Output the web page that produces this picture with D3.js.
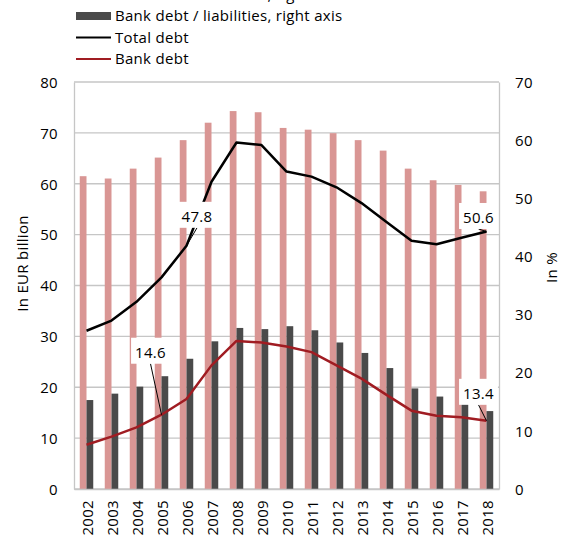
<!DOCTYPE html>
<html>
<head>
<meta charset="utf-8">
<script src="https://cdn.jsdelivr.net/npm/d3@7"></script>
<style>
  html, body { margin: 0; padding: 0; background: #fff; }
  svg { display: block; }
  text { font-family: "Open Sans", sans-serif; font-size: 15px; letter-spacing: 0.3px; fill: #000; }
</style>
</head>
<body>
<svg id="chart" width="565" height="536"></svg>
<script>
// ---- data ----
const years = ["2002","2003","2004","2005","2006","2007","2008","2009","2010","2011","2012","2013","2014","2015","2016","2017","2018"];
// right axis, in %
const totalDebtToLiabilities = [53.8, 53.4, 55.1, 57.0, 60.0, 63.0, 65.0, 64.8, 62.1, 61.8, 61.2, 60.0, 58.2, 55.1, 53.1, 52.3, 51.2];
const bankDebtToLiabilities  = [15.3, 16.4, 17.6, 19.4, 22.4, 25.4, 27.7, 27.5, 28.0, 27.3, 25.2, 23.4, 20.8, 17.3, 15.9, 14.9, 13.4];
// left axis, in EUR billion
const totalDebt = [31.1, 33.1, 36.8, 41.6, 47.8, 60.4, 68.1, 67.6, 62.4, 61.4, 59.3, 56.2, 52.5, 48.8, 48.1, 49.4, 50.6];
const bankDebt  = [8.7, 10.3, 12.1, 14.6, 17.7, 24.3, 29.1, 28.8, 28.0, 26.9, 24.3, 21.7, 18.5, 15.4, 14.4, 14.1, 13.4];
const leftTicks  = [0, 10, 20, 30, 40, 50, 60, 70, 80];
const rightTicks = [0, 10, 20, 30, 40, 50, 60, 70];
const seriesNames = ["Total debt / liabilities, right axis", "Bank debt / liabilities, right axis", "Total debt", "Bank debt"];
const leftTitle = "In EUR billion";
const rightTitle = "In %";
// data labels: series, year
const labelSeries = ["total", "bank", "total", "bank"];
const labelYears  = ["2006", "2005", "2018", "2018"];

// ---- styles / layout ----
const colors = { pink: "#d99694", dark: "#4a4a4a", black: "#000000", red: "#a01c22", grid: "#c6c6c6" };
const labelOffsets = [[10.5, -31], [-11, -64], [-8, -15.6], [-8, -29]];
const plot = { left: 74, right: 499, top: 82, bottom: 489 };

const svg = d3.select("#chart");

const x = d3.scaleBand().domain(years).range([plot.left, plot.right]).paddingInner(0).paddingOuter(0);
const yL = d3.scaleLinear().domain([0, 80]).range([plot.bottom, plot.top]);
const yR = d3.scaleLinear().domain([0, 70]).range([plot.bottom, plot.top]);
const bw = x.bandwidth() * 0.27;
const cx = d => x(d) + x.bandwidth() / 2;

// gridlines
svg.append("g").selectAll("line").data(leftTicks).join("line")
  .attr("x1", plot.left).attr("x2", plot.right)
  .attr("y1", d => yL(d)).attr("y2", d => yL(d))
  .attr("stroke", colors.grid).attr("stroke-width", 1.3);

// bars
svg.append("g").selectAll("rect").data(years).join("rect")
  .attr("x", d => cx(d) - bw)
  .attr("width", bw)
  .attr("y", (d, i) => yR(totalDebtToLiabilities[i]))
  .attr("height", (d, i) => yR(0) - yR(totalDebtToLiabilities[i]))
  .attr("fill", colors.pink);
svg.append("g").selectAll("rect").data(years).join("rect")
  .attr("x", d => cx(d))
  .attr("width", bw)
  .attr("y", (d, i) => yR(bankDebtToLiabilities[i]))
  .attr("height", (d, i) => yR(0) - yR(bankDebtToLiabilities[i]))
  .attr("fill", colors.dark);

// axes
const axL = svg.append("g").attr("transform", `translate(${plot.left},0)`)
  .call(d3.axisLeft(yL).tickValues(leftTicks).tickSize(0).tickPadding(16).tickFormat(d3.format("d")));
const axR = svg.append("g").attr("transform", `translate(${plot.right},0)`)
  .call(d3.axisRight(yR).tickValues(rightTicks).tickSize(0).tickPadding(16).tickFormat(d3.format("d")));
const axB = svg.append("g").attr("transform", `translate(0,${plot.bottom})`)
  .call(d3.axisBottom(x).tickSize(0).tickPadding(0));
[axL, axR, axB].forEach(a => {
  a.select(".domain").attr("stroke", colors.grid).attr("stroke-width", 1.3);
  a.selectAll("text").attr("font-family", null).attr("font-size", null).attr("fill", "#000");
});
axL.selectAll(".tick text").attr("dy", "0.35em");
axR.selectAll(".tick text").attr("dy", "0.35em");
axB.selectAll(".tick text")
  .attr("transform", "rotate(-90)")
  .attr("text-anchor", "end")
  .attr("x", -11)
  .attr("y", 1.5)
  .attr("dy", "0.35em");

// axis titles
svg.append("text").attr("transform", `translate(22.5,${(plot.top + plot.bottom) / 2 - 22}) rotate(-90)`)
  .attr("text-anchor", "middle").attr("dy", "0.35em").text(leftTitle);
svg.append("text").attr("transform", `translate(552,${(plot.top + plot.bottom) / 2 - 18}) rotate(-90)`)
  .attr("text-anchor", "middle").attr("dy", "0.35em").text(rightTitle);

// lines
const line = vals => d3.line().x((d, i) => cx(years[i])).y(d => yL(d))(vals);
svg.append("path").attr("d", line(totalDebt)).attr("fill", "none")
  .attr("stroke", colors.black).attr("stroke-width", 2.5).attr("stroke-linejoin", "round");
svg.append("path").attr("d", line(bankDebt)).attr("fill", "none")
  .attr("stroke", colors.red).attr("stroke-width", 2.5).attr("stroke-linejoin", "round");

// data labels
const labG = svg.append("g");
labelSeries.forEach((s, k) => {
  const i = years.indexOf(labelYears[k]);
  const v = s === "total" ? totalDebt[i] : bankDebt[i];
  const px = cx(years[i]), py = yL(v);
  const bx = px + labelOffsets[k][0], by = py + labelOffsets[k][1];
  const g = labG.append("g");
  const boxH = 26;
  g.append("line").attr("x1", bx).attr("y1", by + boxH / 2).attr("x2", px).attr("y2", py)
    .attr("stroke", "#000").attr("stroke-width", 1);
  const rect = g.append("rect").attr("fill", "#fff");
  const t = g.append("text").attr("x", bx).attr("y", by + 2).attr("dy", "0.35em")
    .attr("text-anchor", "middle").text(d3.format(".1f")(v));
  const w = t.node().getComputedTextLength() + 8;
  rect.attr("x", bx - w / 2).attr("y", by - boxH / 2).attr("width", w).attr("height", boxH);
});

// legend
const legend = svg.append("g");
const legTop = -5.5, legStep = 21.5;
seriesNames.forEach((name, i) => {
  const yy = legTop + i * legStep;
  if (i < 2) {
    legend.append("rect").attr("x", 76).attr("y", i === 0 ? yy - 6 : yy - 4).attr("width", 35).attr("height", i === 0 ? 2 : 8)
      .attr("fill", i === 0 ? colors.pink : colors.dark)
      .attr("opacity", i === 0 ? 0 : 1);
  } else {
    legend.append("line").attr("x1", 76).attr("x2", 111).attr("y1", yy).attr("y2", yy)
      .attr("stroke", i === 2 ? colors.black : colors.red).attr("stroke-width", 2);
  }
  legend.append("text").attr("x", 115).attr("y", yy).attr("dy", "0.35em").text(name);
});
</script>
</body>
</html>
